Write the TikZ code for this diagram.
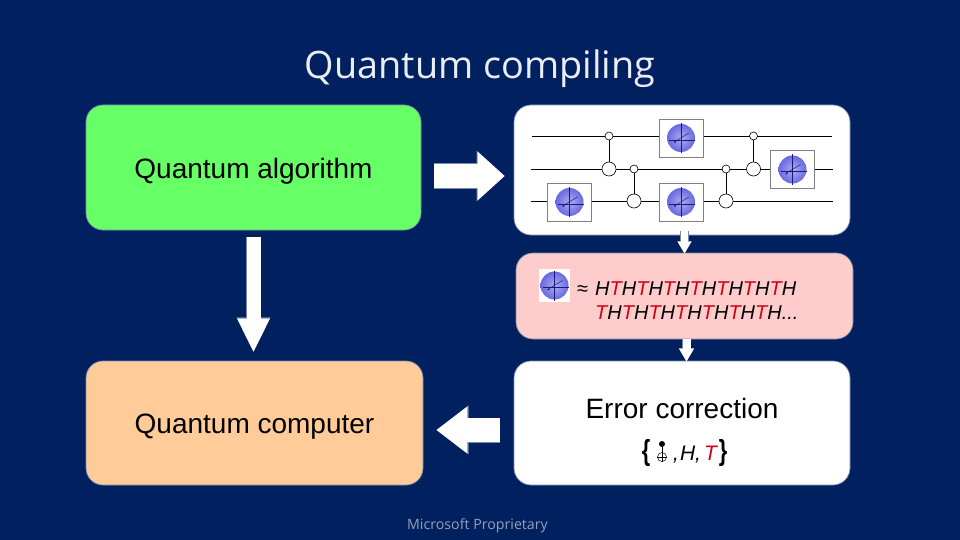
\documentclass[tikz,border=0pt]{standalone}
\usepackage{fontspec}
\setmainfont{Liberation Sans}
\newfontfamily\titlefont{Open Sans}
\usetikzlibrary{arrows.meta, positioning, calc}
\definecolor{slidenavy}{RGB}{0,32,96}
\definecolor{edgeblue}{RGB}{120,140,170}
\definecolor{algogreen}{RGB}{102,255,102}
\definecolor{computerorange}{RGB}{255,204,153}
\definecolor{approxpink}{RGB}{255,204,204}
\definecolor{tgatered}{RGB}{210,0,20}
\definecolor{spherepurple}{RGB}{105,105,225}
\definecolor{axisblue}{RGB}{25,25,120}
\definecolor{footergray}{RGB}{150,160,180}
\newcommand{\redT}{\textcolor{tgatered}{T}}
\tikzset{
  block/.style={rectangle, rounded corners=17pt, draw=edgeblue, line width=0.7pt, inner sep=0pt},
  blocktext/.style={inner sep=0pt, font=\fontsize{28}{32}\selectfont},
  blockarrow/.style n args={3}{
    preaction={draw=edgeblue, line width=#1+1pt, -{Triangle[length=#2, width=#3, scale=1.04]}},
    draw=white, line width=#1, -{Triangle[length=#2, width=#3]}},
  wire/.style={line width=0.7pt},
  gatebox/.style={rectangle, draw=gray, fill=white, line width=0.7pt, minimum width=44pt, minimum height=38pt, inner sep=0pt},
  control/.style={circle, draw=black, fill=white, line width=0.6pt, minimum size=8pt, inner sep=0pt},
  target/.style={circle, draw=black, fill=white, line width=0.6pt, minimum size=14pt, inner sep=0pt},
  setbrace/.style={anchor=center, inner sep=0pt, xscale=0.75, font=\bfseries\fontsize{29}{34}\selectfont},
  pics/blochball/.style={code={
    \shade[inner color=spherepurple!55!white, outer color=spherepurple] (0,0) circle [radius=14];
    \draw[axisblue, line width=0.5pt] (0,-15) -- (0,15);
    \draw[axisblue, line width=0.5pt] (-12,2) -- (14,2);
    \draw[axisblue, line width=0.5pt] (-7,4) -- (8,-5);
    \fill[axisblue] (-6,4) circle [radius=1];
  }}
}
\begin{document}
\begin{tikzpicture}[x=1pt, y=-1pt]
  \useasboundingbox (0,0) rectangle (960,540);
  \fill[slidenavy] (0,0) rectangle (960,540);

  \node[text=white!92!slidenavy, font=\titlefont\fontsize{37.8}{42}\selectfont] (title) at (480,69) {Quantum compiling};

  \node[block, fill=algogreen, minimum width=335pt, minimum height=125pt] (algorithm) at (253.5,167.5) {};
  \node[block, fill=white, minimum width=336pt, minimum height=130pt] (circuit) at (682,170) {};
  \node[block, fill=approxpink, minimum width=337pt, minimum height=86pt] (approx) at (684.5,296) {};
  \node[block, fill=computerorange, minimum width=337pt, minimum height=124pt] (computer) at (254.5,423) {};
  \node[block, fill=white, minimum width=336pt, minimum height=124pt] (correction) at (682,423) {};

  \node[blocktext] (algotext) at (253.5,171) {Quantum algorithm};
  \node[blocktext] (computertext) at (254.5,426.5) {Quantum computer};
  \node[blocktext] (errortext) at (682,408) {Error correction};

  % block arrows
  \draw[blockarrow={24pt}{27pt}{47pt}, shorten <=13pt, shorten >=9pt] ([yshift=-8.5pt]algorithm.east) -- ([yshift=-6pt]circuit.west);
  \draw[blockarrow={14pt}{34pt}{30pt}, shorten <=7pt, shorten >=8pt] (algorithm.south) -- (algorithm.south |- computer.north);
  \draw[blockarrow={24pt}{31pt}{45pt}, shorten <=14pt, shorten >=13pt] ([yshift=-7pt]correction.west) -- ([yshift=-7pt]computer.east);
  \draw[blockarrow={7.5pt}{12pt}{13pt}, shorten <=-4pt, shorten >=-1pt] ([xshift=2.5pt]circuit.south) -- (approx.north);
  \draw[blockarrow={8pt}{13pt}{14pt}, shorten >=-1pt] ([xshift=2pt]approx.south) -- ([xshift=4.5pt]correction.north);

  % circuit wires
  \coordinate (topin) at (532,136);
  \coordinate (topout) at (832,136);
  \coordinate (midin) at (531,169);
  \coordinate (midout) at (833,169);
  \coordinate (lowin) at (531,201);
  \coordinate (lowout) at (833,201);
  \draw[wire] (topin) -- (topout);
  \draw[wire] (midin) -- (midout);
  \draw[wire] (lowin) -- (lowout);

  \foreach \name/\xpos/\ctrly/\targy in {a/609/136/169, b/634/169/201, c/726/169/201, d/753.5/136/169} {
    \node[target] (targ\name) at (\xpos,\targy) {};
    \node[control] (ctrl\name) at (\xpos,\ctrly) {};
    \draw[wire] (ctrl\name) -- (targ\name);
  }

  \foreach \name/\xpos/\ypos in {one/569.5/202, two/681/138, three/681/202, four/792.5/169.5} {
    \node[gatebox] (gate\name) at (\xpos,\ypos) {};
    \pic at (gate\name) {blochball};
  }

  % approximation
  \node[rectangle, fill=white, minimum width=31pt, minimum height=33pt, inner sep=0pt] (unitary) at (554.5,285.5) {};
  \pic at (unitary) {blochball};
  \node[anchor=base west, inner sep=0pt, font=\fontsize{20}{24}\selectfont] (approxsign) at (577,295) {≈};
  \node[anchor=base west, inner sep=0pt, font=\itshape\fontsize{20}{24}\selectfont] (lineone) at (595,295) {H\redT H\redT H\redT H\redT H\redT H\redT H\redT H};
  \node[anchor=base west, inner sep=0pt, font=\itshape\fontsize{20}{24}\selectfont] (linetwo) at (595,319) {\redT H\redT H\redT H\redT H\redT H\redT H\redT H...};

  % gate set
  \node[setbrace] (openbrace) at (646,453) {\{};
  \node[circle, fill=black, minimum size=6pt, inner sep=0pt] (cnotdot) at (662,444) {};
  \node[circle, draw=black, line width=0.5pt, minimum size=9pt, inner sep=0pt] (cnotplus) at (662,457) {};
  \draw[line width=0.5pt] (cnotdot) -- (cnotplus.south);
  \draw[line width=0.5pt] (cnotplus.west) -- (cnotplus.east);
  \node[anchor=base west, inner sep=0pt, font=\itshape\fontsize{21}{24}\selectfont] (gateset) at (673,460) {,\hspace{1pt}H,\hspace{3pt}\redT};
  \node[setbrace] (closebrace) at (723,453) {\}};

  \node[text=footergray, font=\titlefont\fontsize{14.2}{17}\selectfont] (footer) at (477.5,526) {Microsoft Proprietary};
\end{tikzpicture}
\end{document}
